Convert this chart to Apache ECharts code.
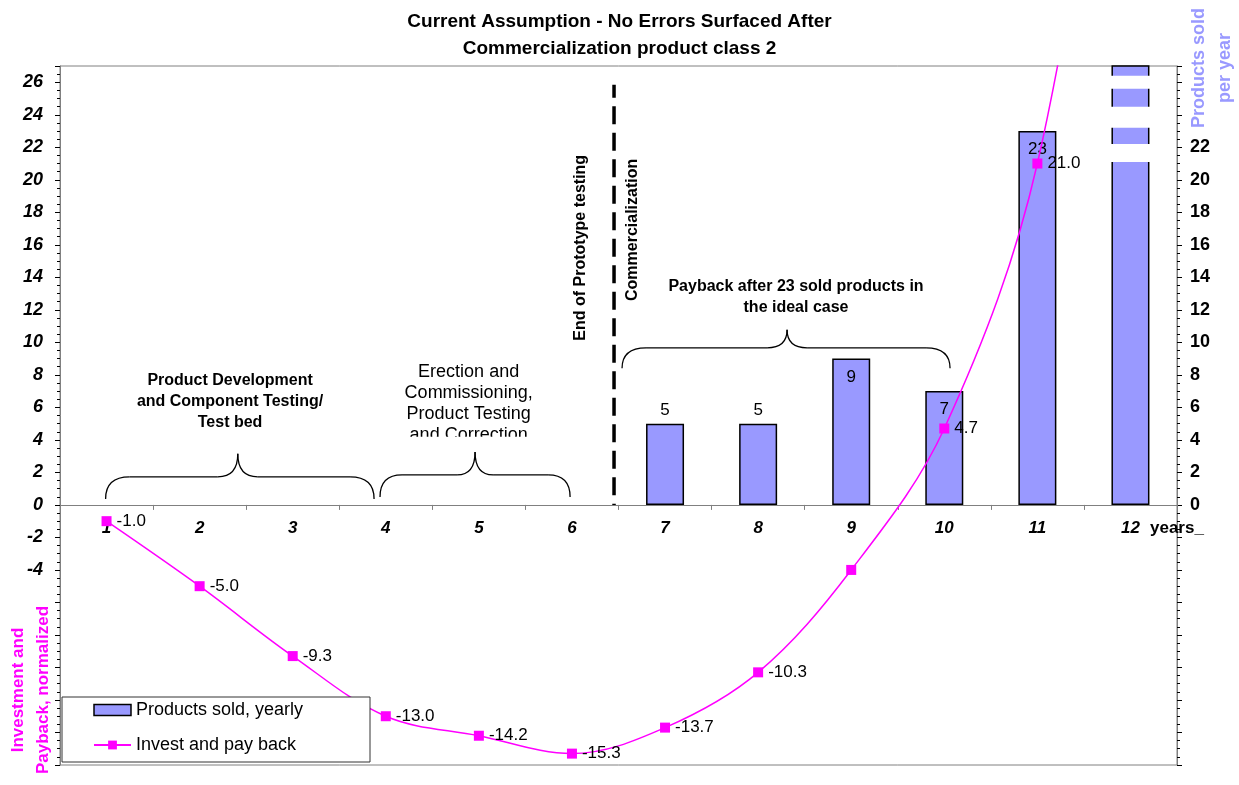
<!DOCTYPE html>
<html>
<head>
<meta charset="utf-8">
<title>Current Assumption - No Errors Surfaced After Commercialization product class 2</title>
<script src="https://cdn.jsdelivr.net/npm/echarts@6/dist/echarts.min.js"></script>
<style>
  html, body { margin: 0; padding: 0; background: #ffffff; }
  #chart { width: 1239px; height: 785px; }
</style>
</head>
<body>
<div id="chart"></div>
<script>
// ---- data ----
const years = ['1', '2', '3', '4', '5', '6', '7', '8', '9', '10', '11', '12'];
const productsSold = [null, null, null, null, null, null, 5, 5, 9, 7, 23, 40];
const investPayback = [-1.0, -5.0, -9.3, -13.0, -14.2, -15.3, -13.7, -10.3, -4.0, 4.7, 21.0, 55.0];
const leftLabelRange = [-4, 26];
const rightLabelRange = [0, 22];
const hiddenLineLabels = ['9', '12'];

// ---- display settings ----
const FONT = 'Liberation Sans, Arial, Helvetica, sans-serif';
const Y_MIN = -16, Y_MAX = 27;
const BAR_COLOR = '#9999FF';
const LINE_COLOR = '#FF00FF';
const BAR_WIDTH = 38;
const GRID = { left: 60, right: 62, top: 66, bottom: 20 };
const HEIGHT = 785;

const chart = echarts.init(document.getElementById('chart'));

const option = {
  animation: false,
  backgroundColor: '#ffffff',
  textStyle: { fontFamily: FONT },
  title: {
    text: 'Current Assumption - No Errors Surfaced After\nCommercialization product class 2',
    left: 'center',
    top: 8,
    padding: 0,
    textStyle: { fontSize: 19, fontWeight: 'bold', color: '#000', lineHeight: 27, fontFamily: FONT }
  },
  grid: {
    left: GRID.left, right: GRID.right, top: GRID.top, bottom: GRID.bottom,
    show: true, borderColor: '#808080', borderWidth: 1,
    containLabel: false,
    outerBoundsMode: 'none'
  },
  legend: {
    orient: 'vertical',
    left: 88, top: 696,
    itemWidth: 37, itemHeight: 11, itemGap: 17,
    padding: 5,
    z: 60,
    textStyle: { fontSize: 18, color: '#000', fontFamily: FONT },
    data: [
      { name: 'Products sold, yearly', icon: 'rect', itemStyle: { color: BAR_COLOR, borderColor: '#000', borderWidth: 1.5 } },
      { name: 'Invest and pay back' }
    ]
  },
  xAxis: {
    type: 'category',
    data: years,
    position: 'bottom',
    offset: 0,
    axisLine: { onZero: false, lineStyle: { color: '#808080', width: 1 } },
    axisTick: { show: true, length: 5, lineStyle: { color: '#808080' } },
    axisLabel: { fontSize: 17, fontWeight: 'bold', fontStyle: 'italic', color: '#000', margin: 15, fontFamily: FONT },
    splitLine: { show: false }
  },
  yAxis: [
    {
      type: 'value', position: 'left',
      min: Y_MIN, max: Y_MAX, interval: 2,
      axisLine: { show: true, lineStyle: { color: '#808080' } },
      axisTick: { show: true, length: 5, lineStyle: { color: '#000' } },
      minorTick: { show: true, splitNumber: 4, length: 3, lineStyle: { color: '#000' } },
      axisLabel: {
        fontSize: 18, fontWeight: 'bold', fontStyle: 'italic', color: '#000', margin: 17, fontFamily: FONT,
        formatter: v => (v >= leftLabelRange[0] && v <= leftLabelRange[1] && v % 2 === 0) ? String(v) : ''
      },
      splitLine: { show: false }
    },
    {
      type: 'value', position: 'right',
      min: Y_MIN, max: Y_MAX, interval: 2,
      axisLine: { show: true, lineStyle: { color: '#808080' } },
      axisTick: { show: true, length: 5, lineStyle: { color: '#000' } },
      minorTick: { show: true, splitNumber: 4, length: 3, lineStyle: { color: '#000' } },
      axisLabel: {
        fontSize: 18, fontWeight: 'bold', color: '#000', margin: 13, fontFamily: FONT,
        formatter: v => (v >= rightLabelRange[0] && v <= rightLabelRange[1] && v % 2 === 0) ? String(v) : ''
      },
      splitLine: { show: false }
    }
  ],
  series: [
    {
      name: 'Products sold, yearly',
      type: 'bar',
      yAxisIndex: 1,
      barWidth: BAR_WIDTH,
      clip: true,
      itemStyle: { color: BAR_COLOR, borderColor: '#000', borderWidth: 1.5 },
      label: { show: true, color: '#000', fontSize: 17, fontFamily: FONT },
      data: productsSold.map(v => {
        if (v == null) return null;
        const inside = v >= 7;
        return {
          value: v,
          label: {
            show: v <= Y_MAX,
            position: inside ? 'insideTop' : 'top',
            distance: inside ? 10 : 5
          }
        };
      })
    },
    {
      name: 'Invest and pay back',
      type: 'line',
      yAxisIndex: 0,
      smooth: 0.35,
      clip: true,
      symbol: 'rect',
      symbolSize: 10,
      z: 3,
      itemStyle: { color: LINE_COLOR },
      lineStyle: { color: LINE_COLOR, width: 1.5 },
      label: {
        show: true, position: 'right', distance: 5,
        color: '#000', fontSize: 17, fontFamily: FONT,
        formatter: p => Number(p.value).toFixed(1)
      },
      data: investPayback.map((v, i) => ({
        value: v,
        label: { show: !hiddenLineLabels.includes(years[i]) }
      }))
    }
  ]
};

chart.setOption(option);

// ---- scale helpers ----
const x0 = chart.convertToPixel({ xAxisIndex: 0 }, 0);
const band = chart.convertToPixel({ xAxisIndex: 0 }, 1) - x0;
const X = yr => x0 + (yr - 1) * band;              // fractional year -> pixel
const Y = v => chart.convertToPixel({ yAxisIndex: 0 }, v);

// the category axis crosses the value axes at zero
const zeroOffset = (HEIGHT - GRID.bottom) - Y(0);

// curly brace made of quadratic curves and straight runs
function brace(xl, xr, xp, ye, yh, yp, rEnd, rMid) {
  const L = X(xl), R = X(xr), P = X(xp);
  const E = Y(ye), H = Y(yh), T = Y(yp);
  const st = { fill: null, stroke: '#000', lineWidth: 1.3 };
  const q = (a, b, c, d, e, f) => ({ type: 'bezierCurve', z: 5, shape: { x1: a, y1: b, cpx1: c, cpy1: d, x2: e, y2: f }, style: st });
  const l = (a, b, c, d) => ({ type: 'line', z: 5, shape: { x1: a, y1: b, x2: c, y2: d }, style: st });
  return [
    q(L, E, L, H, L + rEnd, H),
    l(L + rEnd, H, P - rMid, H),
    q(P - rMid, H, P, H, P, T),
    q(P, T, P, H, P + rMid, H),
    l(P + rMid, H, R - rEnd, H),
    q(R - rEnd, H, R, H, R, E)
  ];
}

const boldText = { fontSize: 16, fontWeight: 'bold', fontFamily: FONT, fill: '#000', align: 'center', verticalAlign: 'middle', lineHeight: 21 };

const graphics = [];

// phase braces
graphics.push(...brace(0.99, 3.874, 2.41, 0.37, 1.72, 3.14, 24, 20));
graphics.push(...brace(3.938, 5.98, 4.959, 0.49, 1.85, 3.26, 22, 18));
graphics.push(...brace(6.538, 10.062, 8.311, 8.4, 9.66, 10.77, 24, 20));

// phase captions
graphics.push({ type: 'text', z: 5, x: X(2.327), y: Y(6.34),
  style: Object.assign({}, boldText, { text: 'Product Development\nand Component Testing/\nTest bed' }) });
graphics.push({ type: 'text', z: 5, x: X(4.89), y: Y(6.25),
  style: { text: 'Erection and\nCommissioning,\nProduct Testing\nand Correction', fontSize: 18, fontFamily: FONT, fill: '#000',
           align: 'center', verticalAlign: 'middle', lineHeight: 21 } });
// the caption box ends mid-way through its last line
graphics.push({ type: 'rect', z: 6, shape: { x: X(4.89) - 80, y: Y(4.2), width: 160, height: Y(3.7) - Y(4.2) },
  style: { fill: '#ffffff' } });
graphics.push({ type: 'text', z: 5, x: X(8.407), y: Y(12.77),
  style: Object.assign({}, boldText, { text: 'Payback after 23 sold products in\nthe ideal case' }) });

// end of prototype testing marker
graphics.push({ type: 'line', z: 5, shape: { x1: X(6.452), y1: Y(25.85), x2: X(6.452), y2: Y(0) },
  style: { stroke: '#000', lineWidth: 3.5, lineDash: [18, 8.5], lineDashOffset: 5 } });
graphics.push({ type: 'text', z: 5, x: X(6.098), y: Y(15.82), rotation: Math.PI / 2,
  style: Object.assign({}, boldText, { text: 'End of Prototype testing' }) });
graphics.push({ type: 'text', z: 5, x: X(6.656), y: Y(16.92), rotation: Math.PI / 2,
  style: Object.assign({}, boldText, { text: 'Commercialization' }) });

// scale breaks on the off-scale bar of year 12
const barX = X(12);
[[26.4, 25.6], [24.5, 23.2], [22.2, 21.1]].forEach(g => {
  graphics.push({ type: 'rect', z: 6,
    shape: { x: barX - BAR_WIDTH / 2 - 2, y: Y(g[0]), width: BAR_WIDTH + 4, height: Y(g[1]) - Y(g[0]) },
    style: { fill: '#ffffff' } });
});

// axis names
graphics.push({ type: 'text', z: 5, x: 31, y: 690, rotation: Math.PI / 2,
  style: { text: 'Investment and\nPayback, normalized', fontSize: 17, fontWeight: 'bold', fontFamily: FONT,
           fill: LINE_COLOR, align: 'center', verticalAlign: 'middle', lineHeight: 25 } });
graphics.push({ type: 'text', z: 5, x: 1212, y: 68, rotation: Math.PI / 2,
  style: { text: 'Products sold\nper year', fontSize: 18, fontWeight: 'bold', fontFamily: FONT,
           fill: BAR_COLOR, align: 'center', verticalAlign: 'middle', lineHeight: 26 } });
graphics.push({ type: 'text', z: 5, x: 1150, y: Y(0) + 23,
  style: { text: 'years_', fontSize: 17, fontWeight: 'bold', fontFamily: FONT, fill: '#000',
           align: 'left', verticalAlign: 'middle' } });

// legend frame
graphics.push({ type: 'rect', z: 50, shape: { x: 62, y: 697, width: 308, height: 65 },
  style: { fill: '#ffffff', stroke: '#333333', lineWidth: 1 } });

chart.setOption({ xAxis: { offset: -zeroOffset }, graphic: graphics });
</script>
</body>
</html>
